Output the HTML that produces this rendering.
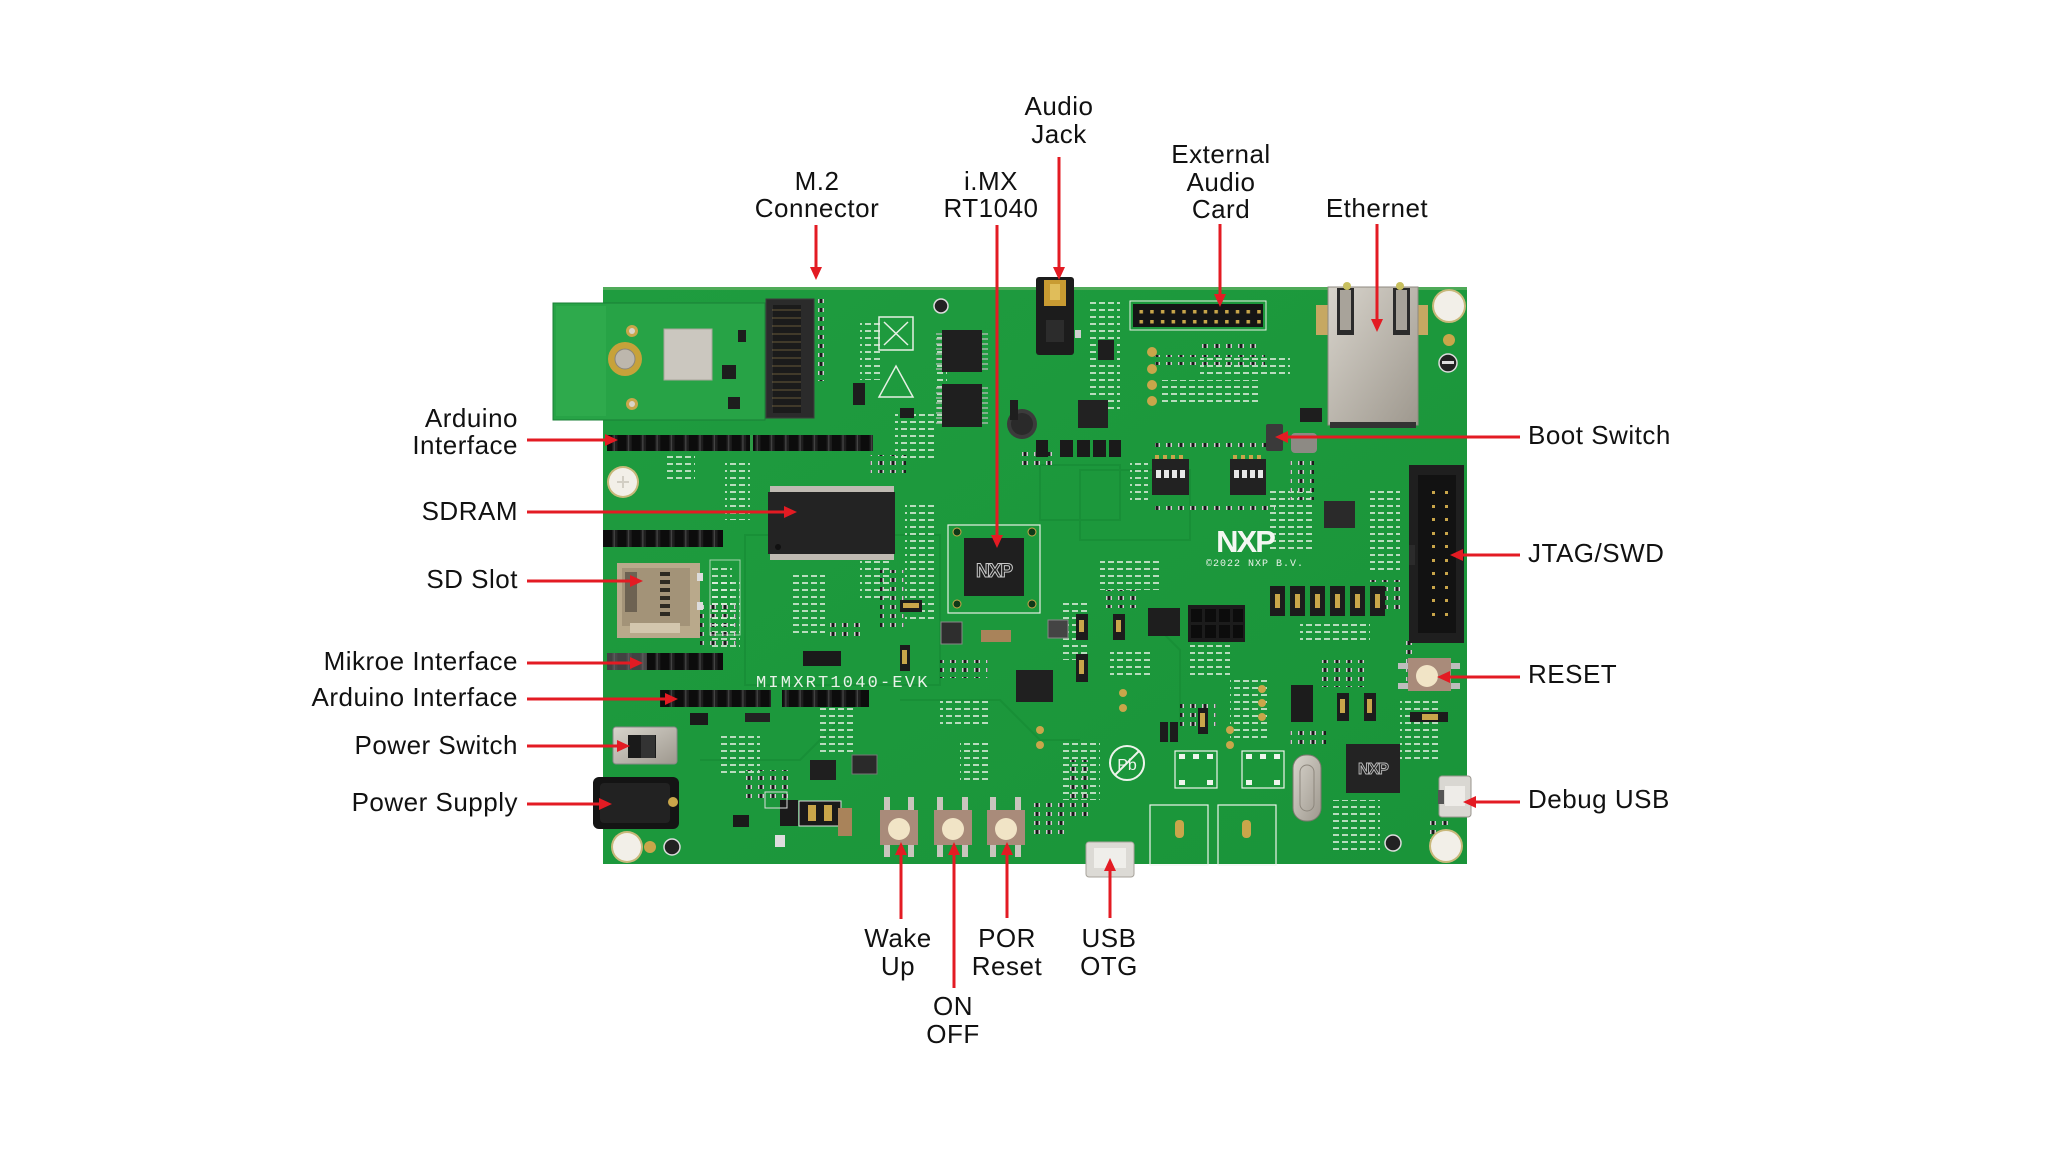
<!DOCTYPE html>
<html><head><meta charset="utf-8">
<style>
html,body{margin:0;padding:0;background:#fff;width:2048px;height:1152px;overflow:hidden}
svg{display:block}
text{font-family:"Liberation Sans",sans-serif}
.lbl{font-size:26px;letter-spacing:0.5px;fill:#111}
.silk{font-family:"Liberation Mono",monospace;fill:#e8f2e8}
</style></head><body>
<svg width="2048" height="1152" viewBox="0 0 2048 1152" xmlns="http://www.w3.org/2000/svg">
<defs>
  <pattern id="hdr" x="0" y="0" width="14.3" height="40" patternUnits="userSpaceOnUse">
    <rect width="14.3" height="40" fill="#1e1e1e"/>
    <rect x="2.5" y="0" width="9" height="40" fill="#0c0c0c"/>
    <rect x="13" y="0" width="1.3" height="40" fill="#444"/>
  </pattern>
  <pattern id="goldpins" x="1136" y="307" width="10.7" height="10" patternUnits="userSpaceOnUse">
    <rect width="10.7" height="10" fill="#151515"/>
    <rect x="3.5" y="3" width="3.5" height="3.5" fill="#c9a64a"/>
  </pattern>
  <pattern id="smd" x="0" y="0" width="12" height="9" patternUnits="userSpaceOnUse">
    <rect width="12" height="9" fill="none"/>
    <rect x="2" y="2" width="6" height="4" fill="#1a1a1a"/>
    <rect x="2" y="2" width="1.5" height="4" fill="#cfcfcf"/>
    <rect x="6.5" y="2" width="1.5" height="4" fill="#cfcfcf"/>
  </pattern>
  <pattern id="silkdots" x="0" y="0" width="9" height="7" patternUnits="userSpaceOnUse">
    <rect x="1" y="1" width="6" height="2" fill="#dfeedd" opacity="0.8"/>
  </pattern>
  <linearGradient id="silv" x1="0" y1="0" x2="1" y2="1">
    <stop offset="0" stop-color="#d8d4cc"/><stop offset="1" stop-color="#9e988e"/>
  </linearGradient>
  <linearGradient id="boardg" x1="0" y1="0" x2="1" y2="1">
    <stop offset="0" stop-color="#1f9c3f"/><stop offset="0.5" stop-color="#1c983c"/><stop offset="1" stop-color="#1a9439"/>
  </linearGradient>
</defs>

<rect width="2048" height="1152" fill="#fff"/>

<!-- ================= BOARD ================= -->
<rect x="603" y="287" width="864" height="577" fill="url(#boardg)"/>
<rect x="603" y="287" width="864" height="3" fill="#6fb56a" opacity="0.6"/>

<!-- subtle trace regions -->
<g fill="none" stroke="#178c35" stroke-width="2" opacity="0.7">
  <rect x="745" y="535" width="195" height="150"/>
  <rect x="1080" y="470" width="110" height="70"/>
  <path d="M900 700 L1000 700 L1040 740 L1080 740"/>
  <path d="M700 760 L800 760 L840 720"/>
  <path d="M1150 620 L1180 650 L1180 720"/>
  <rect x="1040" y="465" width="80" height="55"/>
</g>

<!-- silkscreen small-part texture blocks -->
<g>
  <rect x="860" y="320" width="20" height="60" fill="url(#silkdots)"/>
  <rect x="905" y="500" width="30" height="120" fill="url(#silkdots)"/>
  <rect x="935" y="335" width="12" height="90" fill="url(#silkdots)"/>
  <rect x="1090" y="300" width="30" height="110" fill="url(#silkdots)"/>
  <rect x="1160" y="380" width="100" height="25" fill="url(#silkdots)"/>
  <rect x="1330" y="360" width="40" height="50" fill="url(#silkdots)"/>
  <rect x="1130" y="460" width="18" height="45" fill="url(#silkdots)"/>
  <rect x="1270" y="490" width="45" height="60" fill="url(#silkdots)"/>
  <rect x="1370" y="490" width="30" height="80" fill="url(#silkdots)"/>
  <rect x="710" y="580" width="30" height="70" fill="url(#silkdots)"/>
  <rect x="790" y="575" width="35" height="60" fill="url(#silkdots)"/>
  <rect x="1060" y="600" width="30" height="60" fill="url(#silkdots)"/>
  <rect x="1060" y="740" width="40" height="60" fill="url(#silkdots)"/>
  <rect x="720" y="735" width="40" height="40" fill="url(#silkdots)"/>
  <rect x="820" y="705" width="35" height="50" fill="url(#silkdots)"/>
  <rect x="1230" y="680" width="40" height="60" fill="url(#silkdots)"/>
  <rect x="1400" y="700" width="40" height="60" fill="url(#silkdots)"/>
  <rect x="1330" y="800" width="50" height="50" fill="url(#silkdots)"/>
  <rect x="960" y="740" width="30" height="40" fill="url(#silkdots)"/>
  <rect x="1110" y="650" width="40" height="30" fill="url(#silkdots)"/>
  <rect x="895" y="410" width="40" height="50" fill="url(#silkdots)"/>
  <rect x="1200" y="355" width="90" height="20" fill="url(#silkdots)"/>
  <rect x="725" y="460" width="25" height="60" fill="url(#silkdots)"/>
  <rect x="665" y="455" width="30" height="25" fill="url(#silkdots)"/>
  <rect x="1100" y="560" width="60" height="30" fill="url(#silkdots)"/>
  <rect x="1300" y="620" width="70" height="25" fill="url(#silkdots)"/>
  <rect x="1190" y="645" width="40" height="30" fill="url(#silkdots)"/>
  <rect x="860" y="560" width="30" height="40" fill="url(#silkdots)"/>
  <rect x="940" y="700" width="50" height="25" fill="url(#silkdots)"/>
</g>
<g>
  <rect x="1155" y="355" width="110" height="10" fill="url(#smd)"/>
  <rect x="1155" y="505" width="120" height="9" fill="url(#smd)"/>
  <rect x="1155" y="440" width="120" height="9" fill="url(#smd)"/>
  <rect x="700" y="600" width="36" height="45" fill="url(#smd)"/>
  <rect x="880" y="570" width="24" height="60" fill="url(#smd)"/>
  <rect x="1290" y="460" width="24" height="40" fill="url(#smd)"/>
  <rect x="1370" y="580" width="30" height="30" fill="url(#smd)"/>
  <rect x="1020" y="450" width="36" height="18" fill="url(#smd)"/>
  <rect x="870" y="455" width="36" height="18" fill="url(#smd)"/>
  <rect x="1070" y="760" width="24" height="60" fill="url(#smd)"/>
  <rect x="740" y="770" width="48" height="30" fill="url(#smd)"/>
  <rect x="1180" y="700" width="36" height="27" fill="url(#smd)"/>
  <rect x="1320" y="660" width="48" height="27" fill="url(#smd)"/>
  <rect x="1400" y="640" width="12" height="45" fill="url(#smd)"/>
  <rect x="1030" y="800" width="36" height="36" fill="url(#smd)"/>
  <rect x="1430" y="820" width="24" height="27" fill="url(#smd)"/>
  <rect x="940" y="660" width="48" height="18" fill="url(#smd)"/>
  <rect x="830" y="620" width="36" height="18" fill="url(#smd)"/>
  <rect x="1100" y="590" width="36" height="18" fill="url(#smd)"/>
  <rect x="1290" y="730" width="36" height="18" fill="url(#smd)"/>
</g>

<!-- ================= M.2 MODULE CARD ================= -->
<rect x="553" y="303" width="212" height="117" fill="#27a346" stroke="#1a7f36" stroke-width="1"/>
<rect x="556" y="306" width="50" height="110" fill="#2eaa4c"/>
<rect x="664" y="329" width="48" height="51" fill="#cbc7bf" stroke="#aaa59b"/>
<circle cx="625" cy="359" r="17" fill="#c7a23a"/>
<circle cx="625" cy="359" r="10" fill="#bdb7ad" stroke="#8b857b"/>
<circle cx="632" cy="331" r="6" fill="#c9a64a"/><circle cx="632" cy="331" r="3" fill="#d9d4c8"/>
<circle cx="632" cy="404" r="6" fill="#c9a64a"/><circle cx="632" cy="404" r="3" fill="#d9d4c8"/>
<rect x="722" y="365" width="14" height="14" fill="#1d1d1d"/>
<rect x="728" y="397" width="12" height="12" fill="#1d1d1d"/>
<rect x="738" y="330" width="8" height="12" fill="#1d1d1d"/>
<rect x="580" y="318" width="40" height="5" fill="url(#silkdots)"/>

<!-- M.2 connector -->
<rect x="766" y="299" width="48" height="119" fill="#2b2b2b" stroke="#3c3c3c"/>
<rect x="773" y="305" width="28" height="108" fill="#1b1b1b"/>
<g stroke="#b39a55" stroke-width="1">
  <path d="M772 310 H801 M772 318 H801 M772 326 H801 M772 334 H801 M772 342 H801 M772 350 H801 M772 358 H801 M772 366 H801 M772 374 H801 M772 382 H801 M772 390 H801 M772 398 H801 M772 406 H801" opacity="0.5"/>
</g>
<rect x="816" y="296" width="8" height="85" fill="url(#smd)"/>

<!-- WEEE & ESD symbols -->
<rect x="879" y="317" width="34" height="33" fill="none" stroke="#e6f0e4" stroke-width="1.5"/>
<path d="M884 322 L908 345 M908 322 L884 345" stroke="#e6f0e4" stroke-width="1.5"/>
<path d="M896 366 L913 397 L879 397 Z" fill="none" stroke="#e6f0e4" stroke-width="1.5"/>

<!-- GND TP19 -->
<circle cx="941" cy="306" r="7" fill="#222" stroke="#ddd" stroke-width="1.5"/>

<!-- U9 / U10 ICs -->
<rect x="942" y="330" width="40" height="42" fill="#1f1f1f"/>
<rect x="942" y="384" width="40" height="43" fill="#1f1f1f"/>
<g stroke="#bdbdbd" stroke-width="1.2">
  <path d="M936 334 H942 M936 339 H942 M936 344 H942 M936 349 H942 M936 354 H942 M936 359 H942 M936 364 H942 M936 369 H942"/>
  <path d="M982 334 H988 M982 339 H988 M982 344 H988 M982 349 H988 M982 354 H988 M982 359 H988 M982 364 H988 M982 369 H988"/>
  <path d="M936 388 H942 M936 393 H942 M936 398 H942 M936 403 H942 M936 408 H942 M936 413 H942 M936 418 H942 M936 423 H942"/>
  <path d="M982 388 H988 M982 393 H988 M982 398 H988 M982 403 H988 M982 408 H988 M982 413 H988 M982 418 H988 M982 423 H988"/>
</g>
<rect x="853" y="383" width="12" height="22" fill="#1d1d1d"/>
<rect x="900" y="408" width="14" height="10" fill="#1d1d1d"/>

<!-- Arduino header J17 -->
<rect x="607" y="435" width="266" height="16" fill="url(#hdr)"/>
<rect x="750" y="435" width="3" height="16" fill="#2d9a45"/>

<!-- mount hole H1 -->
<circle cx="623" cy="482" r="16" fill="#c8b87a"/>
<circle cx="623" cy="482" r="14" fill="#f2efe8"/>
<path d="M617 482 H629 M623 476 V488" stroke="#d2cec4" stroke-width="2"/>

<!-- SDRAM -->
<rect x="770" y="486" width="124" height="7" fill="#bfbab2"/>
<rect x="770" y="553" width="124" height="7" fill="#bfbab2"/>
<rect x="768" y="492" width="127" height="62" fill="#232323"/>
<circle cx="778" cy="547" r="3" fill="#111"/>

<!-- Header J70 -->
<rect x="603" y="530" width="120" height="17" fill="url(#hdr)"/>

<!-- SD card slot -->
<rect x="617" y="563" width="83" height="75" fill="#b9a98b"/>
<rect x="622" y="568" width="68" height="58" fill="#a39378"/>
<rect x="625" y="572" width="12" height="40" fill="#6d6252"/>
<g fill="#2e2a22"><rect x="660" y="572" width="10" height="4"/><rect x="660" y="580" width="10" height="4"/><rect x="660" y="588" width="10" height="4"/><rect x="660" y="596" width="10" height="4"/><rect x="660" y="604" width="10" height="4"/><rect x="660" y="612" width="10" height="4"/></g>
<rect x="630" y="623" width="50" height="10" fill="#d3c6ad"/>
<rect x="697" y="573" width="6" height="8" fill="#ddd"/>
<rect x="697" y="602" width="6" height="8" fill="#ddd"/>
<rect x="710" y="560" width="30" height="75" fill="none" stroke="#dfeedd" stroke-width="1" opacity="0.7"/>
<rect x="712" y="565" width="20" height="65" fill="url(#silkdots)"/>

<!-- Mikroe header -->
<rect x="607" y="653" width="116" height="17" fill="url(#hdr)"/>
<rect x="607" y="653" width="40" height="17" fill="#6f6f6f" opacity="0.55"/>

<!-- silk text -->
<text class="silk" x="756" y="687" font-size="17" letter-spacing="2.2">MIMXRT1040-EVK</text>

<!-- Arduino header J32/J33 -->
<rect x="660" y="690" width="111" height="17" fill="url(#hdr)"/>
<rect x="782" y="690" width="87" height="17" fill="url(#hdr)"/>
<rect x="690" y="713" width="18" height="12" fill="#1a1a1a"/>
<rect x="745" y="713" width="25" height="9" fill="#222"/>

<!-- Power switch -->
<rect x="613" y="727" width="64" height="37" rx="3" fill="url(#silv)" stroke="#888"/>
<rect x="628" y="735" width="28" height="23" fill="#1a1a1a"/>
<rect x="641" y="735" width="14" height="23" fill="#333"/>

<!-- Power jack -->
<rect x="593" y="777" width="86" height="52" rx="6" fill="#141414"/>
<rect x="600" y="783" width="70" height="40" rx="4" fill="#222"/>
<circle cx="673" cy="802" r="5" fill="#c9a64a"/>

<!-- mount hole bottom-left -->
<circle cx="627" cy="847" r="16" fill="#c8b87a"/>
<circle cx="627" cy="847" r="14" fill="#f2efe8"/>
<circle cx="650" cy="847" r="6" fill="#c9a64a"/>
<circle cx="672" cy="847" r="8" fill="#222" stroke="#ddd" stroke-width="1.5"/>

<!-- small parts left-bottom -->
<rect x="780" y="800" width="18" height="26" fill="#1a1a1a"/>
<rect x="799" y="801" width="42" height="25" fill="#1a1a1a" stroke="#ddd" stroke-width="1"/>
<rect x="808" y="805" width="8" height="16" fill="#c9a64a"/>
<rect x="824" y="805" width="8" height="16" fill="#c9a64a"/>
<rect x="803" y="651" width="38" height="15" fill="#1a1a1a"/>
<rect x="852" y="755" width="25" height="19" fill="#2a2a2a" stroke="#777"/>
<rect x="810" y="760" width="26" height="20" fill="#1f1f1f"/>
<rect x="775" y="835" width="10" height="12" fill="#ddd"/>
<rect x="733" y="815" width="16" height="12" fill="#1a1a1a"/>
<rect x="765" y="792" width="22" height="16" fill="none" stroke="#ddd"/>
<rect x="838" y="808" width="14" height="28" fill="#a9835a"/>

<!-- i.MX RT1040 -->
<rect x="948" y="525" width="92" height="88" fill="none" stroke="#e6f0e4" stroke-width="1.2"/>
<circle cx="957" cy="532" r="4" fill="#0f3a18" stroke="#c9a64a"/>
<circle cx="1032" cy="532" r="4" fill="#0f3a18" stroke="#c9a64a"/>
<circle cx="957" cy="604" r="4" fill="#0f3a18" stroke="#c9a64a"/>
<circle cx="1032" cy="604" r="4" fill="#0f3a18" stroke="#c9a64a"/>
<rect x="964" y="538" width="60" height="58" fill="#1f1f1f"/>
<text x="994" y="577" font-size="19" font-weight="bold" text-anchor="middle" fill="none" stroke="#c8c8c8" stroke-width="1" letter-spacing="-1">NXP</text>

<!-- Audio jack -->
<rect x="1036" y="277" width="38" height="78" rx="3" fill="#1c1c1c"/>
<rect x="1044" y="280" width="22" height="26" fill="#c89b32"/>
<rect x="1050" y="284" width="10" height="16" fill="#e0bd5a"/>
<rect x="1046" y="320" width="18" height="22" fill="#2c2c2c"/>
<rect x="1075" y="330" width="6" height="8" fill="#cfcfcf"/>

<!-- Audio main header -->
<rect x="1133" y="304" width="130" height="23" fill="url(#goldpins)"/>
<rect x="1130" y="301" width="136" height="29" fill="none" stroke="#e6f0e4" stroke-width="1"/>
<rect x="1200" y="340" width="60" height="9" fill="url(#smd)"/>

<!-- J38/J39 pads -->
<circle cx="1152" cy="352" r="5" fill="#c9a64a"/><circle cx="1152" cy="369" r="5" fill="#c9a64a"/>
<circle cx="1152" cy="385" r="5" fill="#c9a64a"/><circle cx="1152" cy="401" r="5" fill="#c9a64a"/>

<!-- Ethernet RJ45 -->
<rect x="1316" y="305" width="12" height="30" fill="#c6a862"/>
<rect x="1418" y="305" width="10" height="30" fill="#c6a862"/>
<rect x="1328" y="287" width="90" height="138" fill="url(#silv)"/>
<rect x="1328" y="287" width="90" height="138" fill="none" stroke="#8f8a80"/>
<rect x="1337" y="288" width="17" height="47" fill="#2b2b2b"/>
<rect x="1340" y="290" width="11" height="40" fill="#a8a39a"/>
<rect x="1393" y="288" width="17" height="47" fill="#2b2b2b"/>
<rect x="1396" y="290" width="11" height="40" fill="#a8a39a"/>
<rect x="1330" y="422" width="86" height="6" fill="#333"/>
<circle cx="1347" cy="286" r="4" fill="#c8c060"/>
<circle cx="1400" cy="286" r="4" fill="#c8c060"/>

<!-- mount top-right -->
<circle cx="1449" cy="306" r="17" fill="#c8b87a"/>
<circle cx="1449" cy="306" r="15" fill="#f2efe8"/>
<circle cx="1449" cy="340" r="6" fill="#c9a64a"/>
<circle cx="1448" cy="363" r="9" fill="#222" stroke="#ddd" stroke-width="1.5"/>
<rect x="1442" y="361" width="12" height="3" fill="#ddd"/>

<!-- Mic -->
<circle cx="1022" cy="424" r="15" fill="#3b3b3b"/>
<circle cx="1022" cy="424" r="11" fill="#2a2a2a"/>

<!-- small jumper row J80.. -->
<g fill="#1a1a1a">
  <rect x="1036" y="440" width="12" height="17"/><rect x="1060" y="440" width="13" height="17"/>
  <rect x="1077" y="440" width="13" height="17"/><rect x="1093" y="440" width="13" height="17"/><rect x="1109" y="440" width="12" height="17"/>
</g>

<!-- U25 -->
<rect x="1078" y="400" width="30" height="28" fill="#222"/>
<rect x="1098" y="340" width="16" height="20" fill="#1e1e1e"/>
<rect x="1010" y="400" width="8" height="20" fill="#1e1e1e"/>

<!-- DIP switches -->
<rect x="1152" y="459" width="37" height="36" fill="#222"/>
<g fill="#e8e8e8"><rect x="1156" y="470" width="5" height="8"/><rect x="1164" y="470" width="5" height="8"/><rect x="1172" y="470" width="5" height="8"/><rect x="1180" y="470" width="5" height="8"/></g>
<rect x="1230" y="459" width="36" height="36" fill="#222"/>
<g fill="#e8e8e8"><rect x="1234" y="470" width="5" height="8"/><rect x="1242" y="470" width="5" height="8"/><rect x="1250" y="470" width="5" height="8"/><rect x="1258" y="470" width="5" height="8"/></g>
<g fill="#c9a64a"><rect x="1155" y="455" width="4" height="4"/><rect x="1163" y="455" width="4" height="4"/><rect x="1171" y="455" width="4" height="4"/><rect x="1179" y="455" width="4" height="4"/><rect x="1233" y="455" width="4" height="4"/><rect x="1241" y="455" width="4" height="4"/><rect x="1249" y="455" width="4" height="4"/><rect x="1257" y="455" width="4" height="4"/></g>

<!-- Boot switch region -->
<rect x="1266" y="424" width="17" height="27" rx="2" fill="#3a3a3a"/>
<rect x="1291" y="433" width="26" height="20" rx="4" fill="#8d8a84"/>
<rect x="1300" y="408" width="22" height="14" fill="#1e1e1e"/>

<!-- U18 -->
<rect x="1324" y="501" width="31" height="27" fill="#2a2a2a"/>

<!-- NXP logo on board -->
<text x="1245" y="552" font-size="31" font-weight="bold" text-anchor="middle" fill="#f4f7f2" letter-spacing="-2">NXP</text>
<text class="silk" x="1206" y="566" font-size="10" letter-spacing="1">©2022 NXP B.V.</text>

<!-- JTAG -->
<rect x="1409" y="465" width="55" height="178" fill="#1f1f1f"/>
<rect x="1418" y="475" width="38" height="158" fill="#121212"/>
<rect x="1409" y="545" width="6" height="20" fill="#2b2b2b"/>
<g fill="#c9a64a">
  <rect x="1432" y="491" width="3" height="3"/><rect x="1445" y="491" width="3" height="3"/>
  <rect x="1432" y="505" width="3" height="3"/><rect x="1445" y="505" width="3" height="3"/>
  <rect x="1432" y="518" width="3" height="3"/><rect x="1445" y="518" width="3" height="3"/>
  <rect x="1432" y="532" width="3" height="3"/><rect x="1445" y="532" width="3" height="3"/>
  <rect x="1432" y="545" width="3" height="3"/><rect x="1445" y="545" width="3" height="3"/>
  <rect x="1432" y="559" width="3" height="3"/><rect x="1445" y="559" width="3" height="3"/>
  <rect x="1432" y="572" width="3" height="3"/><rect x="1445" y="572" width="3" height="3"/>
  <rect x="1432" y="586" width="3" height="3"/><rect x="1445" y="586" width="3" height="3"/>
  <rect x="1432" y="599" width="3" height="3"/><rect x="1445" y="599" width="3" height="3"/>
  <rect x="1432" y="613" width="3" height="3"/><rect x="1445" y="613" width="3" height="3"/>
</g>

<!-- Jumpers J13..J10 -->
<g>
  <rect x="1270" y="586" width="15" height="30" fill="#1c1c1c"/><rect x="1275" y="594" width="5" height="14" fill="#c9a64a"/>
  <rect x="1290" y="586" width="15" height="30" fill="#1c1c1c"/><rect x="1295" y="594" width="5" height="14" fill="#c9a64a"/>
  <rect x="1310" y="586" width="15" height="30" fill="#1c1c1c"/><rect x="1315" y="594" width="5" height="14" fill="#c9a64a"/>
  <rect x="1330" y="586" width="15" height="30" fill="#1c1c1c"/><rect x="1335" y="594" width="5" height="14" fill="#c9a64a"/>
  <rect x="1350" y="586" width="15" height="30" fill="#1c1c1c"/><rect x="1355" y="594" width="5" height="14" fill="#c9a64a"/>
  <rect x="1370" y="586" width="15" height="30" fill="#1c1c1c"/><rect x="1375" y="594" width="5" height="14" fill="#c9a64a"/>
</g>

<!-- J24 2x4 header -->
<rect x="1188" y="605" width="57" height="37" fill="#1c1c1c"/>
<g fill="#0c0c0c"><rect x="1191" y="609" width="11" height="13"/><rect x="1205" y="609" width="11" height="13"/><rect x="1219" y="609" width="11" height="13"/><rect x="1233" y="609" width="10" height="13"/>
<rect x="1191" y="625" width="11" height="13"/><rect x="1205" y="625" width="11" height="13"/><rect x="1219" y="625" width="11" height="13"/><rect x="1233" y="625" width="10" height="13"/></g>

<!-- misc middle -->
<rect x="1148" y="608" width="32" height="28" fill="#1e1e1e"/>
<rect x="1076" y="614" width="12" height="26" fill="#1c1c1c"/><rect x="1079" y="620" width="5" height="12" fill="#c9a64a"/>
<rect x="1113" y="614" width="12" height="26" fill="#1c1c1c"/><rect x="1116" y="620" width="5" height="12" fill="#c9a64a"/>
<rect x="1048" y="620" width="20" height="18" fill="#444" stroke="#888"/>
<rect x="1016" y="670" width="37" height="32" fill="#202020"/>
<rect x="941" y="622" width="21" height="22" fill="#2e2e2e" stroke="#888"/>
<rect x="981" y="630" width="30" height="12" fill="#a9835a"/>
<rect x="900" y="600" width="22" height="12" fill="#1c1c1c"/><rect x="903" y="603" width="16" height="5" fill="#c9a64a"/>
<rect x="900" y="645" width="10" height="26" fill="#1c1c1c"/><rect x="902" y="650" width="5" height="14" fill="#c9a64a"/>
<rect x="1076" y="654" width="12" height="28" fill="#1c1c1c"/><rect x="1079" y="660" width="5" height="14" fill="#c9a64a"/>
<circle cx="1123" cy="693" r="4" fill="#c9a64a"/><circle cx="1123" cy="708" r="4" fill="#c9a64a"/>
<rect x="1198" y="708" width="10" height="26" fill="#1c1c1c"/><rect x="1200" y="713" width="5" height="14" fill="#c9a64a"/>
<rect x="1291" y="685" width="22" height="37" fill="#1c1c1c"/>
<rect x="1337" y="693" width="12" height="28" fill="#1c1c1c"/><rect x="1340" y="699" width="5" height="14" fill="#c9a64a"/>
<rect x="1364" y="693" width="12" height="28" fill="#1c1c1c"/><rect x="1367" y="699" width="5" height="14" fill="#c9a64a"/>
<rect x="1410" y="712" width="38" height="10" fill="#1c1c1c"/><rect x="1422" y="714" width="16" height="6" fill="#c9a64a"/>
<circle cx="1262" cy="689" r="4" fill="#c9a64a"/><circle cx="1262" cy="703" r="4" fill="#c9a64a"/><circle cx="1262" cy="717" r="4" fill="#c9a64a"/>
<circle cx="1230" cy="730" r="4" fill="#c9a64a"/><circle cx="1230" cy="745" r="4" fill="#c9a64a"/>
<circle cx="1040" cy="730" r="4" fill="#c9a64a"/><circle cx="1040" cy="745" r="4" fill="#c9a64a"/>
<rect x="1160" y="722" width="8" height="20" fill="#1c1c1c"/>
<rect x="1170" y="722" width="8" height="20" fill="#1c1c1c"/>

<!-- Pb-free symbol -->
<circle cx="1127" cy="763" r="17" fill="none" stroke="#eef4ec" stroke-width="2"/>
<path d="M1115 775 L1139 751" stroke="#eef4ec" stroke-width="2"/>
<text x="1127" y="770" font-size="16" text-anchor="middle" fill="#eef4ec">Pb</text>

<!-- T1/T2 -->
<rect x="1175" y="751" width="42" height="37" fill="none" stroke="#eef4ec" stroke-width="1.2"/>
<rect x="1242" y="751" width="42" height="37" fill="none" stroke="#eef4ec" stroke-width="1.2"/>
<g fill="#eef4ec"><rect x="1179" y="754" width="6" height="5"/><rect x="1193" y="754" width="6" height="5"/><rect x="1207" y="754" width="6" height="5"/><rect x="1179" y="780" width="6" height="5"/><rect x="1207" y="780" width="6" height="5"/>
<rect x="1246" y="754" width="6" height="5"/><rect x="1260" y="754" width="6" height="5"/><rect x="1274" y="754" width="6" height="5"/><rect x="1246" y="780" width="6" height="5"/><rect x="1274" y="780" width="6" height="5"/></g>

<!-- SPDIF boxes -->
<rect x="1150" y="805" width="58" height="60" fill="none" stroke="#eef4ec" stroke-width="1.2"/>
<rect x="1218" y="805" width="58" height="60" fill="none" stroke="#eef4ec" stroke-width="1.2"/>
<rect x="1175" y="820" width="9" height="18" rx="4" fill="#c9a64a"/>
<rect x="1242" y="820" width="9" height="18" rx="4" fill="#c9a64a"/>

<!-- Crystal -->
<rect x="1293" y="755" width="28" height="66" rx="13" fill="url(#silv)" stroke="#7d786f"/>
<rect x="1300" y="765" width="14" height="46" rx="7" fill="none" stroke="#8d877d"/>

<!-- NXP chip bottom right -->
<rect x="1346" y="744" width="54" height="49" fill="#232323"/>
<text x="1373" y="774" font-size="16" font-weight="bold" text-anchor="middle" fill="none" stroke="#bbb" stroke-width="0.9" letter-spacing="-1">NXP</text>

<!-- RESET button -->
<rect x="1398" y="663" width="10" height="6" fill="#bdbdbd"/><rect x="1450" y="663" width="10" height="6" fill="#bdbdbd"/>
<rect x="1398" y="683" width="10" height="6" fill="#bdbdbd"/><rect x="1450" y="683" width="10" height="6" fill="#bdbdbd"/>
<rect x="1408" y="658" width="43" height="33" fill="#a98b7a"/>
<circle cx="1427" cy="676" r="11" fill="#f1e4c6"/>

<!-- Debug USB -->
<rect x="1439" y="776" width="32" height="41" rx="3" fill="#d9d7d2" stroke="#9a968e"/>
<rect x="1445" y="786" width="20" height="20" fill="#eeece8"/>
<rect x="1438" y="790" width="6" height="14" fill="#555"/>

<!-- mount bottom-right -->
<circle cx="1446" cy="846" r="17" fill="#c8b87a"/>
<circle cx="1446" cy="846" r="15" fill="#f2efe8"/>
<circle cx="1393" cy="843" r="8" fill="#222" stroke="#ddd" stroke-width="1.5"/>

<!-- Bottom tactile buttons -->
<g>
  <rect x="884" y="797" width="6" height="14" fill="#c9c5bd"/><rect x="908" y="797" width="6" height="14" fill="#c9c5bd"/>
  <rect x="884" y="844" width="6" height="13" fill="#c9c5bd"/><rect x="908" y="844" width="6" height="13" fill="#c9c5bd"/>
  <rect x="880" y="810" width="38" height="35" fill="#a98b7a"/>
  <circle cx="899" cy="829" r="11" fill="#f1e4c6"/>

  <rect x="937" y="797" width="6" height="14" fill="#c9c5bd"/><rect x="962" y="797" width="6" height="14" fill="#c9c5bd"/>
  <rect x="937" y="844" width="6" height="13" fill="#c9c5bd"/><rect x="962" y="844" width="6" height="13" fill="#c9c5bd"/>
  <rect x="934" y="810" width="38" height="35" fill="#a98b7a"/>
  <circle cx="953" cy="829" r="11" fill="#f1e4c6"/>

  <rect x="990" y="797" width="6" height="14" fill="#c9c5bd"/><rect x="1015" y="797" width="6" height="14" fill="#c9c5bd"/>
  <rect x="990" y="844" width="6" height="13" fill="#c9c5bd"/><rect x="1015" y="844" width="6" height="13" fill="#c9c5bd"/>
  <rect x="987" y="810" width="38" height="35" fill="#a98b7a"/>
  <circle cx="1006" cy="829" r="11" fill="#f1e4c6"/>
</g>

<!-- USB OTG -->
<rect x="1086" y="842" width="48" height="35" rx="3" fill="#dcdad5" stroke="#a7a39b"/>
<rect x="1094" y="848" width="32" height="20" fill="#efeeea"/>

<!-- ================= ARROWS ================= -->
<g stroke="#e31b23" stroke-width="3" fill="none">
  <path d="M527 440 H606"/>
  <path d="M527 512 H785"/>
  <path d="M527 581 H631"/>
  <path d="M527 663 H631"/>
  <path d="M527 699 H666"/>
  <path d="M527 746 H618"/>
  <path d="M527 804 H600"/>
  <path d="M1520 437 H1287"/>
  <path d="M1520 555 H1462"/>
  <path d="M1520 677 H1449"/>
  <path d="M1520 802 H1475"/>
  <path d="M816 225 V268"/>
  <path d="M997 225 V536"/>
  <path d="M1059 157 V268"/>
  <path d="M1220 224 V295"/>
  <path d="M1377 224 V320"/>
  <path d="M901 919 V854"/>
  <path d="M954 988 V854"/>
  <path d="M1007 918 V854"/>
  <path d="M1110 918 V870"/>
</g>
<g fill="#e31b23">
  <polygon points="618,440 605,434 605,446"/>
  <polygon points="797,512 784,506 784,518"/>
  <polygon points="643,581 630,575 630,587"/>
  <polygon points="643,663 630,657 630,669"/>
  <polygon points="678,699 665,693 665,705"/>
  <polygon points="630,746 617,740 617,752"/>
  <polygon points="612,804 599,798 599,810"/>

  <polygon points="1275,437 1288,431 1288,443"/>
  <polygon points="1450,555 1463,549 1463,561"/>
  <polygon points="1437,677 1450,671 1450,683"/>
  <polygon points="1463,802 1476,796 1476,808"/>

  <polygon points="816,280 810,267 822,267"/>
  <polygon points="997,548 991,535 1003,535"/>
  <polygon points="1059,280 1053,267 1065,267"/>
  <polygon points="1220,307 1214,294 1226,294"/>
  <polygon points="1377,332 1371,319 1383,319"/>

  <polygon points="901,842 895,855 907,855"/>
  <polygon points="954,842 948,855 960,855"/>
  <polygon points="1007,842 1001,855 1013,855"/>
  <polygon points="1110,858 1104,871 1116,871"/>
</g>

<!-- ================= LABELS ================= -->
<g class="lbl">
  <text x="518" y="427" text-anchor="end">Arduino</text>
  <text x="518" y="454" text-anchor="end">Interface</text>
  <text x="518" y="520" text-anchor="end">SDRAM</text>
  <text x="518" y="588" text-anchor="end">SD Slot</text>
  <text x="518" y="670" text-anchor="end">Mikroe Interface</text>
  <text x="518" y="706" text-anchor="end">Arduino Interface</text>
  <text x="518" y="754" text-anchor="end">Power Switch</text>
  <text x="518" y="811" text-anchor="end">Power Supply</text>

  <text x="1528" y="444">Boot Switch</text>
  <text x="1528" y="562">JTAG/SWD</text>
  <text x="1528" y="683">RESET</text>
  <text x="1528" y="808">Debug USB</text>

  <text x="1059" y="115" text-anchor="middle">Audio</text>
  <text x="1059" y="143" text-anchor="middle">Jack</text>
  <text x="817" y="190" text-anchor="middle">M.2</text>
  <text x="817" y="217" text-anchor="middle">Connector</text>
  <text x="991" y="190" text-anchor="middle">i.MX</text>
  <text x="991" y="217" text-anchor="middle">RT1040</text>
  <text x="1221" y="163" text-anchor="middle">External</text>
  <text x="1221" y="191" text-anchor="middle">Audio</text>
  <text x="1221" y="218" text-anchor="middle">Card</text>
  <text x="1377" y="217" text-anchor="middle">Ethernet</text>

  <text x="898" y="947" text-anchor="middle">Wake</text>
  <text x="898" y="975" text-anchor="middle">Up</text>
  <text x="953" y="1015" text-anchor="middle">ON</text>
  <text x="953" y="1043" text-anchor="middle">OFF</text>
  <text x="1007" y="947" text-anchor="middle">POR</text>
  <text x="1007" y="975" text-anchor="middle">Reset</text>
  <text x="1109" y="947" text-anchor="middle">USB</text>
  <text x="1109" y="975" text-anchor="middle">OTG</text>
</g>
</svg>
</body></html>
